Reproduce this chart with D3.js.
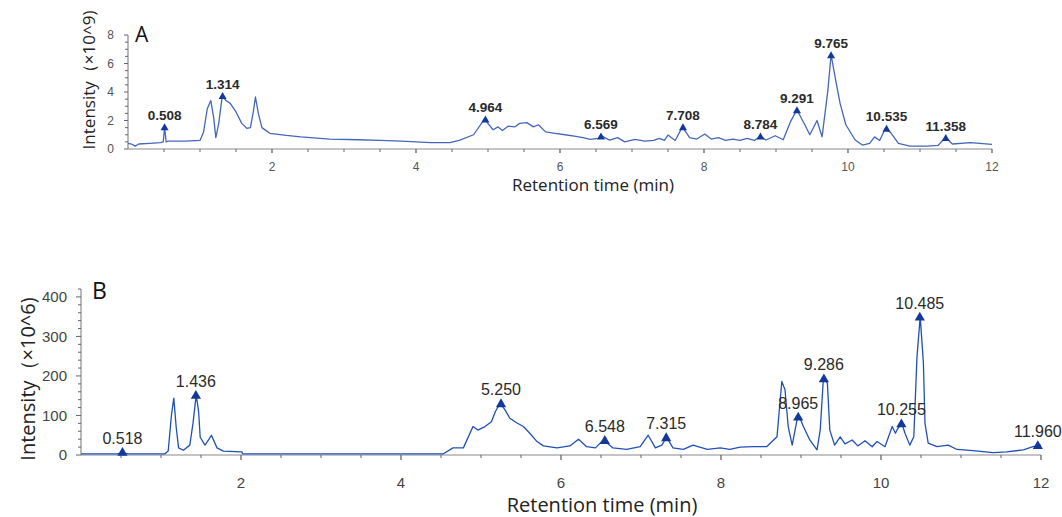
<!DOCTYPE html>
<html>
<head>
<meta charset="utf-8">
<script src="https://cdn.jsdelivr.net/npm/d3@7"></script>
<style>
  body { margin: 0; background: #fff; }
  svg { display: block; }
</style>
</head>
<body>
<svg id="chart"></svg>
<script>
// Panel A trace (retention time in min, intensity x10^9)
const timesA = [0, 0.05, 0.1, 0.15, 0.3, 0.45, 0.49, 0.508, 0.53, 0.56, 0.8, 1.0, 1.05, 1.1, 1.15, 1.19, 1.22, 1.26, 1.31, 1.36,
  1.42, 1.5, 1.58, 1.65, 1.7, 1.74, 1.77, 1.81, 1.86, 1.97, 2.2, 2.4, 2.8, 3.2, 3.5, 3.8, 4.2, 4.47, 4.6, 4.8,
  4.95, 5.07, 5.14, 5.2, 5.28, 5.37, 5.44, 5.54, 5.63, 5.7, 5.8, 5.93, 6.07, 6.2, 6.32, 6.42, 6.53, 6.58, 6.69, 6.8,
  6.9, 7.04, 7.18, 7.3, 7.38, 7.45, 7.5, 7.6, 7.7, 7.8, 7.9, 8.01, 8.1, 8.2, 8.3, 8.4, 8.5, 8.6, 8.7, 8.78,
  8.86, 8.99, 9.1, 9.2, 9.29, 9.4, 9.47, 9.57, 9.64, 9.72, 9.765, 9.83, 9.89, 9.97, 10.1, 10.2, 10.3, 10.37, 10.44, 10.52,
  10.6, 10.7, 10.86, 11.1, 11.25, 11.35, 11.45, 11.7, 12];
const intensA = [0.4, 0.35, 0.2, 0.35, 0.4, 0.45, 0.5, 1.55, 0.5, 0.55, 0.55, 0.6, 1.2, 2.8, 3.4, 2.2, 0.8, 1.8, 3.75, 3.4,
  3.2, 2.6, 1.8, 1.45, 1.5, 2.6, 3.65, 2.5, 1.5, 1.1, 0.95, 0.85, 0.7, 0.65, 0.6, 0.55, 0.45, 0.45, 0.6, 1.0,
  2.1, 1.35, 1.55, 1.3, 1.6, 1.55, 1.8, 1.85, 1.55, 1.7, 1.2, 1.1, 1.0, 0.9, 0.8, 0.68, 0.75, 0.9, 0.62, 0.8,
  0.5, 0.68, 0.55, 0.6, 0.75, 0.6, 0.98, 0.6, 1.55, 0.8, 0.7, 1.05, 0.7, 0.8, 0.6, 0.7, 0.6, 0.75, 0.6, 0.9,
  0.63, 0.93, 0.65, 1.9, 2.75, 1.7, 1.0, 2.0, 0.85, 4.1, 6.6, 4.8, 3.2, 1.7, 0.63, 0.28, 0.4, 0.85, 0.6, 1.45,
  1.1, 0.4, 0.2, 0.2, 0.25, 0.8, 0.35, 0.45, 0.33];
const peakLabelsA = ["0.508", "1.314", "4.964", "6.569", "7.708", "8.784", "9.291", "9.765", "10.535", "11.358"];
const peakHeightsA = [1.55, 3.75, 2.1, 0.9, 1.55, 0.9, 2.75, 6.6, 1.45, 0.8];

// Panel B trace (retention time in min, intensity x10^6)
const timesB = [0, 0.45, 0.5, 0.518, 0.54, 0.6, 1.05, 1.09, 1.13, 1.16, 1.19, 1.22, 1.28, 1.36, 1.4, 1.44, 1.47, 1.49, 1.55, 1.6,
  1.63, 1.7, 1.78, 2.01, 2.02, 4.53, 4.65, 4.78, 4.9, 4.96, 5.05, 5.13, 5.18, 5.24, 5.3, 5.36, 5.45, 5.53, 5.61, 5.7,
  5.78, 5.95, 6.11, 6.22, 6.32, 6.43, 6.53, 6.65, 6.82, 6.99, 7.09, 7.18, 7.26, 7.32, 7.4, 7.53, 7.65, 7.83, 7.99, 8.11,
  8.24, 8.4, 8.57, 8.7, 8.76, 8.8, 8.84, 8.89, 8.95, 8.98, 9.03, 9.11, 9.2, 9.24, 9.28, 9.33, 9.36, 9.42, 9.49, 9.55,
  9.64, 9.71, 9.8, 9.89, 9.95, 10.05, 10.14, 10.18, 10.21, 10.26, 10.3, 10.36, 10.41, 10.45, 10.49, 10.53, 10.55, 10.59, 10.7, 10.84,
  10.95, 11.15, 11.4, 11.57, 11.78, 11.9, 12];
const intensB = [3, 3, 4, 8, 4, 3, 3, 10, 100, 144, 70, 18, 12, 25, 80, 152, 110, 45, 25, 40,
  50, 18, 10, 8, 3, 3, 18, 18, 72, 63, 72, 84, 110, 131, 114, 93, 81, 72, 55, 34,
  23, 18, 23, 40, 21, 18, 38, 18, 14, 21, 50, 18, 25, 45, 18, 14, 25, 14, 18, 14,
  20, 21, 21, 46, 186, 165, 72, 25, 89, 97, 72, 38, 13, 63, 194, 182, 63, 25, 46, 28,
  38, 23, 36, 21, 34, 21, 72, 55, 67, 80, 55, 25, 46, 249, 350, 233, 80, 30, 21, 25,
  14, 11, 6, 8, 13, 21, 25];
const peakLabelsB = ["0.518", "1.436", "5.250", "6.548", "7.315", "8.965", "9.286", "10.255", "10.485", "11.960"];
const peakHeightsB = [8, 152, 131, 38, 45, 97, 194, 80, 350, 25];

const xTicks = [2, 4, 6, 8, 10, 12];
const yTicksA = [0, 2, 4, 6, 8];
const yTicksB = [0, 100, 200, 300, 400];

const width = 1062, height = 517;
const svg = d3.select("#chart").attr("width", width).attr("height", height);

function drawPanel(p) {
    const x = d3.scaleLinear().domain([0, 12]).range([p.left, p.right]);
    const y = d3.scaleLinear().domain(p.yDomain).range([p.bottom, p.top]);
    const g = svg.append("g");

    // x axis: minor ticks every 0.5 min, labels every 2
    g.append("line")
        .attr("x1", x(0)).attr("x2", x(12))
        .attr("y1", y(0)).attr("y2", y(0))
        .attr("stroke", "#8a8a8a").attr("stroke-width", 1.2);
    g.selectAll(".xminor").data(d3.range(0.5, 12.01, 0.5)).enter().append("line")
        .attr("x1", d => x(d)).attr("x2", d => x(d))
        .attr("y1", y(0)).attr("y2", d => y(0) + (d % 2 === 0 ? p.majorTick : p.minorTick))
        .attr("stroke", "#666").attr("stroke-width", d => d % 2 === 0 ? 1.3 : 1);
    g.selectAll(".xlab").data(xTicks).enter().append("text")
        .attr("x", d => x(d)).attr("y", p.xTickY)
        .attr("text-anchor", "middle")
        .attr("font-family", p.tickFont).attr("font-size", p.tickSize)
        .attr("fill", p.tickColor)
        .text(d => d);

    // y axis with minor ticks
    g.append("line")
        .attr("x1", x(0)).attr("x2", x(0))
        .attr("y1", y(0)).attr("y2", y(p.yDomain[1]))
        .attr("stroke", "#8a8a8a").attr("stroke-width", 1.2);
    g.selectAll(".yminor").data(d3.range(0, p.yDomain[1] + 1e-6, p.yMinor)).enter().append("line")
        .attr("x1", x(0)).attr("x2", d => x(0) - (p.yTicks.includes(+d.toFixed(3)) ? p.majorTick : p.minorTick))
        .attr("y1", d => y(d)).attr("y2", d => y(d))
        .attr("stroke", "#666").attr("stroke-width", 1);
    g.selectAll(".ylab").data(p.yTicks).enter().append("text")
        .attr("x", x(0) - p.yTickGap).attr("y", d => y(d))
        .attr("dy", "0.35em")
        .attr("text-anchor", "end")
        .attr("font-family", p.tickFont).attr("font-size", p.tickSize)
        .attr("fill", p.tickColor)
        .text(d => d);

    // axis titles
    g.append("text")
        .attr("x", p.xTitleX).attr("y", p.xTitleY)
        .attr("text-anchor", "middle")
        .attr("font-family", "Open Sans").attr("font-size", p.titleSize)
        .attr("fill", "#222")
        .text("Retention time (min)");
    g.append("text")
        .attr("transform", `translate(${p.yTitleX},${p.yTitleY}) rotate(-90)`)
        .attr("text-anchor", "middle")
        .attr("font-family", "Open Sans").attr("font-size", p.titleSize)
        .attr("fill", "#222")
        .text(p.yTitle);
    g.append("text")
        .attr("x", p.letterX).attr("y", p.letterY)
        .attr("font-family", "Open Sans").attr("font-size", p.letterSize)
        .attr("fill", "#111")
        .text(p.letter);

    // trace
    const pts = p.times.map((t, i) => [t, p.values[i]]);
    const line = d3.line().x(d => x(d[0])).y(d => y(d[1]));
    g.append("path")
        .datum(pts)
        .attr("d", line)
        .attr("fill", "none")
        .attr("stroke", p.lineColor)
        .attr("stroke-width", p.lineWidth)
        .attr("stroke-linejoin", "round");

    // peak markers and labels
    const tri = d3.symbol().type(d3.symbolTriangle).size(p.triSize);
    p.peakLabels.forEach((lab, i) => {
        const px = x(+lab), py = y(p.peakHeights[i]);
        g.append("path")
            .attr("d", tri)
            .attr("transform", `translate(${px},${py + 1})`)
            .attr("fill", "#12389a");
        const t = g.append("text")
            .attr("x", px).attr("y", py - p.labelGap)
            .attr("text-anchor", "middle")
            .attr("font-family", p.labelFont).attr("font-size", p.labelSize)
            .attr("font-weight", p.labelWeight)
            .attr("fill", "#2a2a2a")
            .text(lab);
        const w = t.node().getComputedTextLength();
        if (px + w / 2 > width) t.attr("text-anchor", "end").attr("x", width);
    });
}

drawPanel({
    times: timesA, values: intensA, peakLabels: peakLabelsA, peakHeights: peakHeightsA,
    yTicks: yTicksA, yDomain: [0, 8], yMinor: 0.5,
    left: 128, right: 992, top: 35, bottom: 149,
    majorTick: 4, minorTick: 3, yTickGap: 14,
    tickFont: "Liberation Sans", tickSize: 12, tickColor: "#555", xTickY: 171,
    titleSize: 17, xTitleX: 593, xTitleY: 191, yTitleX: 95, yTitleY: 80,
    yTitle: "Intensity（×10^9)",
    letter: "A", letterX: 135, letterY: 42, letterSize: 21,
    lineColor: "#4466bb", lineWidth: 1.3,
    triSize: 28, labelGap: 7, labelFont: "Liberation Sans", labelSize: 13.5, labelWeight: 600
});

drawPanel({
    times: timesB, values: intensB, peakLabels: peakLabelsB, peakHeights: peakHeightsB,
    yTicks: yTicksB, yDomain: [0, 420], yMinor: 20,
    left: 81, right: 1041, top: 289, bottom: 455,
    majorTick: 5, minorTick: 3, yTickGap: 14,
    tickFont: "Liberation Sans", tickSize: 15, tickColor: "#444", xTickY: 488,
    titleSize: 20, xTitleX: 602, xTitleY: 512, yTitleX: 35, yTitleY: 379,
    yTitle: "Intensity（×10^6)",
    letter: "B", letterX: 92, letterY: 299, letterSize: 23,
    lineColor: "#2150b5", lineWidth: 1.3,
    triSize: 45, labelGap: 8, labelFont: "Liberation Sans", labelSize: 16, labelWeight: 400
});
</script>
</body>
</html>
